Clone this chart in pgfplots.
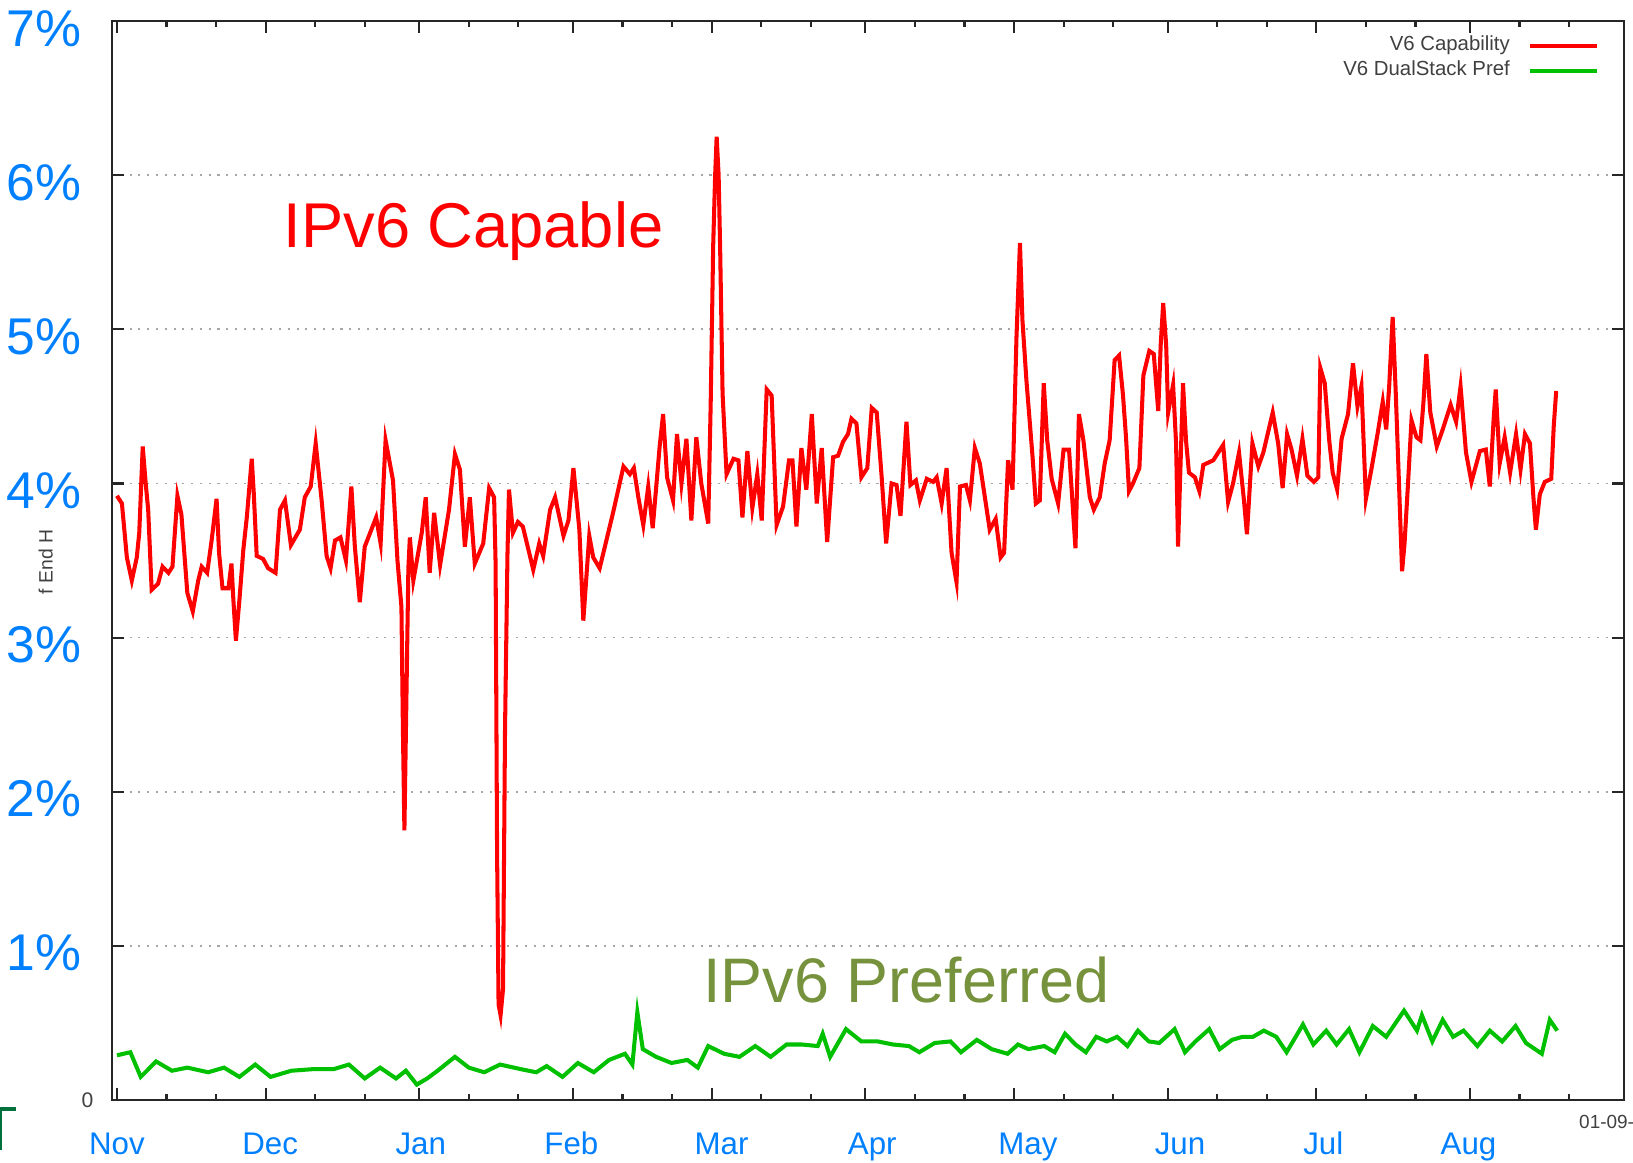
\documentclass[border=0pt]{standalone}
\usepackage{pgfplots}
\pgfplotsset{compat=1.18}
\usepackage{fontspec}
\setmainfont{Liberation Sans}

\definecolor{lblblue}{RGB}{0,128,255}
\definecolor{capred}{RGB}{255,0,0}
\definecolor{prefgreen}{RGB}{0,192,0}
\definecolor{prefolive}{RGB}{118,146,60}
\definecolor{txtgray}{RGB}{64,64,64}
\definecolor{markgreen}{RGB}{0,112,60}

\begin{document}
\begin{tikzpicture}
% page size: 16.33cm x 11.62cm, plot box starts at (0,0)
\useasboundingbox (-1.12cm,-0.62cm) rectangle (15.21cm,11.00cm);
\begin{axis}[
  at={(0,0)}, anchor=south west,
  scale only axis, width=15.116cm, height=10.79cm,
  xmin=-1, xmax=304, ymin=0, ymax=7,
  clip=false,
  axis line style={draw=black!85, line width=0.6pt},
  tick style={black!85, line width=0.6pt},
  tick align=inside,
  major tick length=0.12cm, minor tick length=0.06cm,
  xtick={0,30,61,92,120,151,181,212,242,273,304},
  xticklabels={},
  minor xtick={10,20,40,50,71,81,102,112,130,140,161,171,191,201,222,232,252,262,283,293},
  ytick={1,2,3,4,5,6,7},
  yticklabels={1\%,2\%,3\%,4\%,5\%,6\%,7\%},
  yticklabel style={font=\fontsize{14.7}{15}\selectfont, text=lblblue, anchor=base east, inner sep=0pt, xshift=-0.30cm, yshift=-0.25cm},
  ymajorgrids,
  grid style={line width=0.5pt, black!35, dash pattern=on 0.6pt off 1.9pt},
  legend plot pos=right,
  legend cell align=right,
  legend image code/.code={\draw[#1] (0cm,0cm) -- (0.67cm,0cm);},
  legend style={at={(rel axis cs:1,1)}, anchor=north east, xshift=-0.24cm, yshift=-0.14cm,
    draw=none, fill=none, inner sep=0pt, row sep=0.05cm, column sep=0.18cm,
    font=\fontsize{5.8}{6}\selectfont, nodes={inner sep=0pt, text=txtgray}},
]
\addplot[capred, line width=1.15pt] coordinates {
(0,3.92) (1,3.87) (2,3.52) (3,3.37) (4,3.52) (4.5,3.68) (5.2,4.24) (5.8,4.0) (6.3,3.83) (7,3.31)
(8.3,3.35) (9.2,3.46) (10.4,3.42) (11.2,3.46) (12.2,3.92) (13,3.8) (14.2,3.29) (15.3,3.17) (16.4,3.37) (17.1,3.46)
(18.2,3.42) (19.1,3.63) (20.1,3.9) (20.6,3.55) (21.3,3.32) (22.5,3.32) (23.1,3.48) (23.5,3.24) (24,2.98) (24.7,3.24)
(25.5,3.57) (26.2,3.78) (27.2,4.16) (27.6,3.94) (28.2,3.53) (29.5,3.51) (30.5,3.45) (32,3.42) (32.9,3.83) (33.9,3.89)
(35.1,3.6) (36.9,3.7) (37.9,3.91) (39.1,3.98) (40.1,4.26) (41.3,3.89) (42.3,3.53) (43.1,3.45) (44,3.63) (45.1,3.65)
(46.2,3.5) (47.3,3.98) (48,3.59) (49,3.23) (50,3.59) (52.3,3.78) (53.2,3.61) (54.2,4.28) (55.7,4.02) (56.6,3.5)
(57.4,3.2) (57.7,2.4) (58,1.75) (58.4,2.6) (58.8,3.45) (59.1,3.65) (59.8,3.37) (61.5,3.68) (62.3,3.91) (63.1,3.42)
(64,3.81) (65.2,3.47) (67,3.83) (68.2,4.19) (69.2,4.09) (70.2,3.59) (71.2,3.91) (72.2,3.48) (73.9,3.61) (75.1,3.97)
(76.1,3.91) (76.4,3.48) (76.7,1.6) (77.0,0.62) (77.4,0.55) (77.9,0.72) (78.3,2.4) (78.8,3.55) (79.1,3.96) (79.9,3.68)
(80.9,3.75) (81.9,3.72) (84,3.44) (85.2,3.61) (86,3.53) (87.4,3.83) (88.4,3.91) (90.1,3.66) (91.1,3.76) (92.1,4.1)
(93.3,3.7) (94.1,3.11) (95.3,3.66) (96.1,3.52) (97.4,3.45) (100.1,3.81) (102.2,4.11) (103.5,4.06) (104.3,4.1) (105.2,3.91)
(106.2,3.73) (107.2,3.98) (108.1,3.71) (109.5,4.24) (110.2,4.45) (111,4.04) (112.2,3.89) (113,4.32) (113.9,4.0) (114.9,4.29)
(115.9,3.76) (116.9,4.3) (117.9,4.0) (119.3,3.74) (119.8,4.52) (120.3,5.54) (120.7,6.0) (121,6.25) (121.4,6.0) (121.7,5.54)
(122.2,4.58) (123,4.06) (124.4,4.16) (125.4,4.15) (126.2,3.78) (127.2,4.21) (128.2,3.84) (129.2,4.06) (130.1,3.76) (131.1,4.61)
(132.1,4.57) (133.1,3.73) (134.4,3.85) (135.6,4.15) (136.3,4.15) (137.1,3.72) (138.1,4.23) (139.1,3.96) (140.2,4.45) (141.2,3.87)
(142.2,4.23) (143.3,3.62) (144.5,4.17) (145.5,4.18) (146.5,4.27) (147.5,4.32) (148.2,4.42) (149.2,4.39) (150.2,4.04) (151.4,4.1)
(152.3,4.49) (153.3,4.46) (154.3,4.04) (155.2,3.61) (156.3,4.0) (157.3,3.99) (158.1,3.79) (159.3,4.4) (160.1,3.99) (161.2,4.02)
(162,3.89) (163.4,4.03) (164.7,4.01) (165.4,4.04) (166.4,3.87) (167.4,4.1) (168.4,3.55) (169.4,3.36) (170.1,3.98) (171.3,3.99)
(172.1,3.89) (173.1,4.23) (174.1,4.13) (176.1,3.7) (177.3,3.77) (178.3,3.52) (179,3.55) (179.8,4.15) (180.7,3.96) (181.5,4.95)
(182.2,5.56) (182.7,5.06) (183.5,4.67) (184.7,4.19) (185.4,3.87) (186.2,3.89) (187,4.65) (187.7,4.28) (188.6,4.03) (189.9,3.87)
(191,4.22) (192.1,4.22) (193.4,3.58) (194.1,4.45) (195,4.28) (196.3,3.91) (197.1,3.83) (198.3,3.91) (199.3,4.13) (200.3,4.28)
(200.9,4.59) (201.3,4.8) (202.2,4.83) (203,4.57) (203.6,4.3) (204.2,3.95) (205,4.0) (206.3,4.1) (207.1,4.7) (208.3,4.86)
(209.2,4.84) (210.1,4.47) (210.6,4.9) (211.1,5.17) (211.7,4.9) (212.1,4.46) (213.1,4.64) (213.7,4.26) (214.1,3.59) (215.1,4.65)
(215.7,4.28) (216.3,4.07) (217.5,4.04) (218.4,3.95) (219.2,4.12) (221.2,4.15) (223.2,4.25) (224.2,3.88) (225.2,4.0) (226.4,4.2)
(227.4,3.89) (228,3.67) (229.1,4.26) (230.3,4.11) (231.3,4.2) (233.2,4.46) (234.3,4.26) (235.2,3.97) (236.1,4.32) (237,4.22)
(238.1,4.05) (239.2,4.29) (240.2,4.05) (241.5,4.01) (242.4,4.04) (242.8,4.75) (243.7,4.65) (244.6,4.28) (245.3,4.07) (246.2,3.96)
(247.1,4.29) (248.4,4.45) (249.4,4.78) (250.3,4.5) (251.1,4.63) (252,3.9) (253.1,4.09) (254.4,4.33) (255.4,4.53) (256.1,4.35)
(256.7,4.63) (257.4,5.08) (258,4.61) (258.7,3.98) (259.3,3.43) (259.8,3.61) (260.5,4.0) (261.2,4.41) (262.2,4.3) (263,4.28)
(263.6,4.52) (264.2,4.84) (265,4.46) (266.3,4.24) (267.5,4.35) (269.1,4.51) (270.2,4.4) (271.1,4.63) (272.2,4.2) (273.3,4.01)
(275,4.21) (276.2,4.22) (277,3.98) (277.8,4.43) (278.2,4.61) (279,4.13) (280,4.3) (281.1,4.07) (282.3,4.32) (283.2,4.09)
(284.1,4.32) (285.1,4.26) (285.8,3.91) (286.3,3.7) (287.1,3.93) (288.1,4.01) (289.4,4.03) (289.9,4.37) (290.4,4.6)
};
\addlegendentry{V6 Capability}
\addplot[prefgreen, line width=1.15pt] coordinates {
(0,0.29) (2.7,0.31) (4.8,0.15) (7.9,0.25) (11.1,0.19) (14.2,0.21) (18.4,0.18) (21.6,0.21) (24.7,0.15) (27.9,0.23)
(31,0.15) (35.2,0.19) (39.5,0.2) (43.7,0.2) (46.8,0.23) (50,0.14) (53.1,0.21) (56.3,0.14) (58.3,0.19) (60.5,0.1)
(62.6,0.14) (64.7,0.19) (68.2,0.28) (71,0.21) (74.1,0.18) (77.3,0.23) (81.5,0.2) (84.6,0.18) (86.7,0.22) (89.9,0.15)
(93,0.24) (96.2,0.18) (99.3,0.26) (102.5,0.3) (104,0.23) (105,0.57) (106.1,0.33) (108.8,0.28) (111.9,0.24) (115.1,0.26)
(117.2,0.21) (119.3,0.35) (122.5,0.3) (125.6,0.28) (128.8,0.35) (131.9,0.28) (135.1,0.36) (138.2,0.36) (141.4,0.35) (142.4,0.43)
(143.9,0.28) (147.1,0.46) (150.2,0.38) (153.5,0.38) (156.6,0.36) (159.8,0.35) (161.9,0.31) (165,0.37) (168.2,0.38) (170.3,0.31)
(173.5,0.39) (176.5,0.33) (179.7,0.3) (181.8,0.36) (183.9,0.33) (187.1,0.35) (189.2,0.31) (191.3,0.43) (193.4,0.36) (195.5,0.31)
(197.6,0.41) (199.7,0.38) (201.8,0.41) (203.9,0.35) (206,0.45) (208.2,0.38) (210.3,0.37) (213.4,0.46) (215.5,0.31) (217.6,0.38)
(220.4,0.46) (222.5,0.33) (225,0.39) (227.1,0.41) (229.2,0.41) (231.4,0.45) (233.9,0.41) (236,0.31) (239.3,0.49) (241.4,0.36)
(244,0.45) (246.1,0.36) (248.6,0.46) (250.7,0.31) (253.4,0.48) (256.1,0.41) (259.7,0.58) (262.3,0.45) (263.3,0.55) (265.4,0.38)
(267.5,0.52) (269.6,0.41) (271.7,0.45) (274.5,0.35) (277,0.45) (279.5,0.38) (282.2,0.48) (284.3,0.37) (287.5,0.3) (289.1,0.52)
(290.6,0.45)
};
\addlegendentry{V6 DualStack Pref}

% overlay annotations
\node[font=\fontsize{18}{18}\selectfont, text=capred, anchor=base west, inner sep=0pt] at (axis cs:33.5,5.53) {IPv6 Capable};
\node[font=\fontsize{17.9}{18}\selectfont, text=prefolive, anchor=base west, inner sep=0pt] at (axis cs:118.2,0.635) {IPv6 Preferred};

% month labels
\tikzset{mlab/.style={font=\fontsize{8.9}{9}\selectfont, text=lblblue, anchor=base, inner sep=0pt, yshift=-0.543cm}}
\node[mlab] at (axis cs:0,0) {Nov};
\node[mlab] at (axis cs:30.9,0) {Dec};
\node[mlab] at (axis cs:61.3,0) {Jan};
\node[mlab] at (axis cs:91.7,0) {Feb};
\node[mlab] at (axis cs:122,0) {Mar};
\node[mlab] at (axis cs:152.4,0) {Apr};
\node[mlab] at (axis cs:183.8,0) {May};
\node[mlab] at (axis cs:214.5,0) {Jun};
\node[mlab] at (axis cs:243.4,0) {Jul};
\node[mlab] at (axis cs:272.7,0) {Aug};

% leftovers of the original gnuplot labels
\node[font=\fontsize{6}{6}\selectfont, text=txtgray, anchor=east, inner sep=0pt, xshift=-0.18cm] at (axis cs:-1,0) {0};
\node[font=\fontsize{5.4}{6}\selectfont, text=txtgray, anchor=west, inner sep=0pt, yshift=-0.22cm] at (axis cs:294.9,0) {01-09-};
\end{axis}
\node[rotate=90, font=\fontsize{5.5}{6}\selectfont, text=txtgray, inner sep=0pt] at (-0.664cm,5.38cm) {f End H};
\draw[markgreen, line width=0.04cm] (-1.12cm,-0.50cm) -- (-1.12cm,-0.09cm) -- (-0.955cm,-0.09cm);
\end{tikzpicture}
\end{document}
